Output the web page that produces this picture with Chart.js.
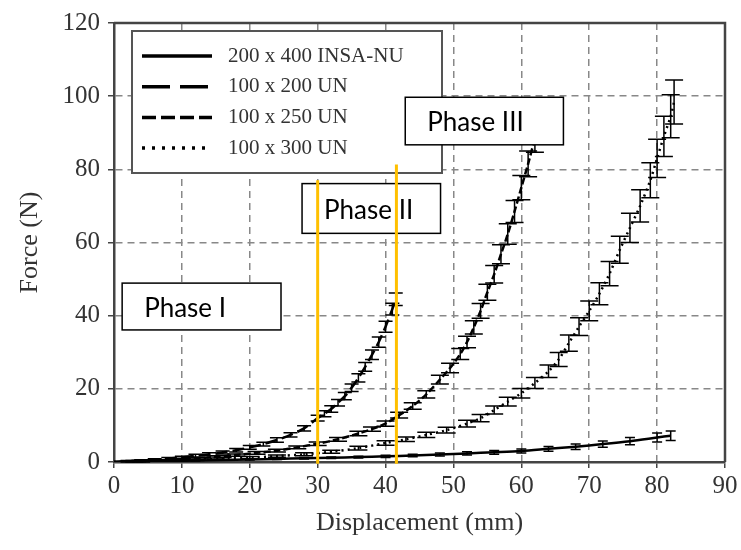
<!DOCTYPE html>
<html>
<head>
<meta charset="utf-8">
<script src="https://cdn.jsdelivr.net/npm/chart.js@4.4.1/dist/chart.umd.min.js"></script>
<style>
  html, body { margin: 0; padding: 0; background: #fff; }
</style>
</head>
<body>
<canvas id="chart" width="741" height="550"></canvas>
<script>
// Data (displacement in mm, force in N, error bar half-heights in N)
const disp200x400 = [0, 4, 8, 12, 16, 20, 24, 28, 32, 36, 40, 44, 48, 52, 56, 60, 64, 68, 72, 76, 80, 82];
const force200x400 = [0, 0.1, 0.25, 0.4, 0.55, 0.7, 0.85, 1.0, 1.15, 1.35, 1.55, 1.8, 2.05, 2.35, 2.65, 3.0, 3.6, 4.2, 4.9, 5.7, 6.7, 7.2];
const err200x400 = [0, 0.05, 0.05, 0.1, 0.1, 0.15, 0.15, 0.2, 0.2, 0.25, 0.3, 0.35, 0.4, 0.45, 0.5, 0.55, 0.65, 0.75, 0.85, 1.0, 1.2, 1.3];

const disp100x200 = [0, 2, 4, 6, 8, 10, 12, 14, 16, 18, 20, 22, 24, 26, 28, 30, 31, 32, 33, 34, 35, 36, 37, 38, 39, 40, 41, 41.5];
const force100x200 = [0, 0.2, 0.4, 0.6, 0.9, 1.3, 1.7, 2.1, 2.6, 3.2, 4.0, 4.9, 6.0, 7.4, 9.2, 12.0, 13.2, 14.5, 16.2, 18.0, 20.3, 23.0, 26.0, 29.3, 32.8, 37.0, 41.8, 44.5];
const err100x200 = [0, 0.2, 0.2, 0.3, 0.3, 0.3, 0.4, 0.4, 0.4, 0.5, 0.5, 0.5, 0.6, 0.6, 0.7, 0.8, 0.8, 0.9, 0.9, 1.0, 1.0, 1.1, 1.2, 1.3, 1.4, 1.5, 1.6, 1.7];

const disp100x250 = [0, 3, 6, 9, 12, 15, 18, 21, 24, 27, 30, 33, 36, 38, 40, 42, 44, 46, 48, 49.5, 51, 52, 53, 54, 55, 56, 57, 58, 59, 60, 61, 62];
const force100x250 = [0, 0.2, 0.4, 0.7, 1.0, 1.4, 1.9, 2.5, 3.1, 4.0, 5.0, 6.2, 7.8, 9.0, 10.5, 12.8, 15.3, 18.5, 22.5, 25.7, 29.5, 32.8, 36.8, 41.3, 46.4, 51.3, 56.8, 62.3, 68.5, 75.0, 81.5, 88.5];
const err100x250 = [0, 0.2, 0.2, 0.2, 0.3, 0.3, 0.3, 0.4, 0.4, 0.4, 0.5, 0.5, 0.6, 0.6, 0.7, 0.8, 0.9, 1.0, 1.2, 1.3, 1.5, 1.6, 1.8, 2.0, 2.2, 2.4, 2.6, 2.8, 3.0, 3.3, 3.5, 3.8];

const disp100x300 = [0, 4, 8, 12, 16, 20, 24, 28, 32, 36, 40, 43, 46, 49, 52, 54, 56, 58, 60, 62, 64, 65.5, 67, 68.5, 70, 71.5, 73, 74.5, 76, 77.5, 79, 80, 81, 82, 82.5];
const force100x300 = [0, 0.2, 0.4, 0.6, 0.9, 1.2, 1.6, 2.1, 2.8, 3.8, 5.2, 6.2, 7.4, 8.7, 10.5, 12.0, 14.2, 16.5, 18.8, 21.6, 24.8, 28.0, 32.5, 37.0, 41.3, 46.0, 51.5, 58.0, 64.0, 70.0, 77.0, 83.0, 89.0, 94.5, 98.4];
const err100x300 = [0, 0.2, 0.2, 0.2, 0.3, 0.3, 0.3, 0.4, 0.4, 0.5, 0.6, 0.6, 0.7, 0.8, 0.9, 1.0, 1.1, 1.2, 1.3, 1.5, 1.7, 1.9, 2.2, 2.4, 2.7, 3.0, 3.3, 3.7, 4.0, 4.4, 4.8, 5.2, 5.5, 5.9, 6.0];

const xTicks = [0, 10, 20, 30, 40, 50, 60, 70, 80, 90];
const yTicks = [0, 20, 40, 60, 80, 100, 120];

// phase boundaries (orange lines) and phase labels, in data units
const phaseLineX = [30, 41.6];
const phaseLineTop = [77, 81.3];
const phaseNames = ['Phase I', 'Phase II', 'Phase III'];
const phaseBoxX = [[1.2, 24.6], [27.7, 48.1], [42.9, 66.2]];
const phaseBoxY = [[48.9, 36.1], [76.1, 62.5], [99.7, 86.7]];

const serif = "'Liberation Serif', 'DejaVu Serif', serif";
const ink = '#333';

const series = [
  { label: '200 x 400 INSA-NU', x: disp200x400, y: force200x400, err: err200x400, dash: [], legendDash: [], cap: 5 },
  { label: '100 x 200 UN', x: disp100x200, y: force100x200, err: err100x200, dash: [12, 5], legendDash: [28, 10], cap: 7 },
  { label: '100 x 250 UN', x: disp100x250, y: force100x250, err: err100x250, dash: [7, 3], legendDash: [14, 5], cap: 9 },
  { label: '100 x 300 UN', x: disp100x300, y: force100x300, err: err100x300, dash: [2, 4], legendDash: [3, 7], cap: 9 }
];

const datasets = series.map(s => ({
  label: s.label,
  data: s.x.map((v, i) => ({ x: v, y: s.y[i] })),
  errors: s.err,
  capHalf: s.cap,
  legendDash: s.legendDash,
  borderColor: '#000',
  borderWidth: 2.5,
  borderDash: s.dash,
  pointRadius: 0,
  tension: 0.3,
  fill: false
}));

// error bars drawn through the scales
const errorBars = {
  id: 'errorBars',
  afterDatasetsDraw(chart) {
    const { ctx, scales: { x, y } } = chart;
    ctx.save();
    ctx.strokeStyle = '#000';
    ctx.lineWidth = 1.5;
    chart.data.datasets.forEach(ds => {
      ds.data.forEach((p, i) => {
        const e = ds.errors[i];
        if (!e) return;
        const px = x.getPixelForValue(p.x);
        const top = y.getPixelForValue(p.y + e);
        const bot = y.getPixelForValue(p.y - e);
        ctx.beginPath();
        ctx.moveTo(px, top); ctx.lineTo(px, bot);
        ctx.moveTo(px - ds.capHalf, top); ctx.lineTo(px + ds.capHalf, top);
        ctx.moveTo(px - ds.capHalf, bot); ctx.lineTo(px + ds.capHalf, bot);
        ctx.stroke();
      });
    });
    ctx.restore();
  }
};

// frame, legend box, phase labels and phase lines
const overlay = {
  id: 'overlay',
  afterDraw(chart) {
    const { ctx, chartArea: a, scales: { x, y } } = chart;
    ctx.save();

    // top and right of the frame
    ctx.strokeStyle = '#444';
    ctx.lineWidth = 2.5;
    ctx.beginPath();
    ctx.moveTo(a.left, a.top); ctx.lineTo(a.right, a.top); ctx.lineTo(a.right, a.bottom);
    ctx.stroke();

    // legend
    const lx = a.left + 18, ly = a.top + 8;
    ctx.fillStyle = '#fff';
    ctx.fillRect(lx, ly, 310, 142);
    ctx.strokeStyle = '#555';
    ctx.lineWidth = 2;
    ctx.strokeRect(lx, ly, 310, 142);
    ctx.font = '21px ' + serif;
    ctx.textBaseline = 'middle';
    chart.data.datasets.forEach((ds, i) => {
      const ry = ly + 25 + i * 30.7;
      ctx.strokeStyle = '#000';
      ctx.lineWidth = 3.5;
      ctx.setLineDash(ds.legendDash);
      ctx.beginPath();
      ctx.moveTo(lx + 10, ry); ctx.lineTo(lx + 80, ry);
      ctx.stroke();
      ctx.setLineDash([]);
      ctx.fillStyle = ink;
      ctx.fillText(ds.label, lx + 96, ry);
    });

    // phase label boxes
    ctx.font = "26px Lato, 'Open Sans', sans-serif";
    phaseNames.forEach((name, i) => {
      const x0 = x.getPixelForValue(phaseBoxX[i][0]);
      const x1 = x.getPixelForValue(phaseBoxX[i][1]);
      const y0 = y.getPixelForValue(phaseBoxY[i][0]);
      const y1 = y.getPixelForValue(phaseBoxY[i][1]);
      ctx.fillStyle = '#fff';
      ctx.fillRect(x0, y0, x1 - x0, y1 - y0);
      ctx.strokeStyle = '#000';
      ctx.lineWidth = 1.5;
      ctx.strokeRect(x0, y0, x1 - x0, y1 - y0);
      ctx.fillStyle = '#000';
      ctx.fillText(name, x0 + 22, (y0 + y1) / 2 + 2);
    });

    // phase boundaries
    ctx.strokeStyle = '#FFC000';
    ctx.lineWidth = 3;
    phaseLineX.forEach((v, i) => {
      const px = x.getPixelForValue(v);
      ctx.beginPath();
      ctx.moveTo(px, y.getPixelForValue(phaseLineTop[i]));
      ctx.lineTo(px, y.getPixelForValue(-0.5));
      ctx.stroke();
    });
    ctx.restore();
  }
};

new Chart(document.getElementById('chart'), {
  type: 'line',
  data: { datasets },
  options: {
    responsive: false,
    animation: false,
    layout: { padding: { top: 20, right: 16, left: 0, bottom: 0 } },
    plugins: { legend: { display: false }, tooltip: { enabled: false } },
    scales: {
      x: {
        type: 'linear',
        min: 0, max: 90,
        afterBuildTicks: s => { s.ticks = xTicks.map(v => ({ value: v })); },
        afterFit: s => { s.height = 88; },
        ticks: { color: ink, font: { family: serif, size: 25 }, padding: 3, maxRotation: 0 },
        grid: { color: '#888', lineWidth: 1.5, tickLength: 6, tickColor: '#444', tickBorderDash: [] },
        border: { color: '#444', width: 2.5, dash: [7, 5] },
        title: { display: true, text: 'Displacement (mm)', color: ink, font: { family: serif, size: 26 }, padding: { top: 2, bottom: 11 } }
      },
      y: {
        min: 0, max: 120,
        afterBuildTicks: s => { s.ticks = yTicks.map(v => ({ value: v })); },
        afterFit: s => { s.width = 114; },
        ticks: { color: ink, font: { family: serif, size: 25 }, padding: 8 },
        grid: { color: '#888', lineWidth: 1.5, tickLength: 6, tickColor: '#444', tickBorderDash: [] },
        border: { color: '#444', width: 2.5, dash: [7, 5] },
        title: { display: true, text: 'Force (N)', color: ink, font: { family: serif, size: 26 }, padding: { top: 15, bottom: 0 } }
      }
    }
  },
  plugins: [errorBars, overlay]
});
</script>
</body>
</html>
